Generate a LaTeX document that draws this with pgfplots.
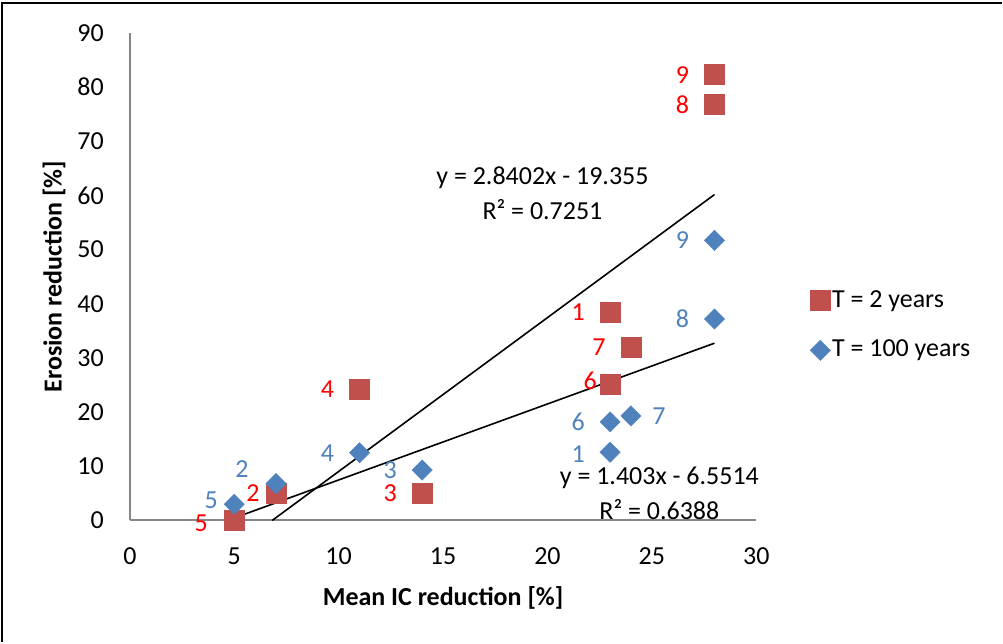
\documentclass[border=0pt]{standalone}
\usepackage{fontspec}
\setmainfont{Carlito}
\usepackage{pgfplots}
\pgfplotsset{compat=1.18}
\definecolor{sqred}{RGB}{192,80,77}
\definecolor{dmblue}{RGB}{79,129,189}
\definecolor{lblred}{RGB}{255,0,0}
\definecolor{lblblue}{RGB}{79,129,189}
\definecolor{axgray}{RGB}{134,134,134}

\begin{document}
\fontsize{26}{31}\selectfont
\begin{tikzpicture}[
    lr/.style={text=lblred, inner sep=0pt, anchor=center, font=\fontsize{26}{31}\selectfont},
    lb/.style={text=lblblue, inner sep=0pt, anchor=center, font=\fontsize{26}{31}\selectfont},
    eq/.style={inner sep=0pt, anchor=center, font=\fontsize{26}{31}\selectfont},
]
\begin{axis}[
    name=ax,
    scale only axis,
    width=627pt, height=488pt,
    xmin=0, xmax=30, ymin=0, ymax=90,
    xtick={0,5,...,30}, ytick={0,10,...,90},
    axis x line*=bottom, axis y line*=left,
    axis line style={axgray, line width=2pt, -},
    tick style={draw=none},
    major tick length=0pt,
    clip=false,
    tick label style={font=\fontsize{26}{31}\selectfont},
    /pgf/number format/assume math mode=true,
    xticklabel style={inner sep=0pt, anchor=north, yshift=-27pt},
    yticklabel style={inner sep=0pt, anchor=east, xshift=-26pt},
    xlabel={\textbf{Mean IC reduction [\%]}},
    ylabel={\textbf{Erosion reduction [\%]}},
    label style={font=\fontsize{26}{31}\selectfont},
    xlabel style={at={(axis description cs:0.5,-0.158)}, anchor=center, inner sep=0pt},
    ylabel style={at={(axis description cs:-0.121,0.5)}, anchor=center, inner sep=0pt},
    legend style={draw=none, fill=none, at={(rel axis cs:1.081,0.40)}, anchor=west,
        font=\fontsize{26}{31}\selectfont, row sep=26pt,
        nodes={inner sep=1.5pt}},
    legend cell align=left,
    legend image code/.code={\draw[#1] plot coordinates {(0pt,0pt)};},
]
% T = 2 years
\addplot[only marks, mark=square*, mark size=10pt,
    mark options={fill=sqred, draw=sqred}] coordinates {
    (23,38.5) (7,5.1) (14,5.1) (11,24.2) (5,0)
    (23,25.2) (24,32.0) (28,76.8) (28,82.3)
};
\addlegendentry{T = 2 years}
% T = 100 years
\addplot[only marks, mark=square*, mark size=7.2pt,
    mark options={rotate=45, fill=dmblue, draw=dmblue}] coordinates {
    (23,12.6) (7,6.8) (14,9.3) (11,12.5) (5,3.0)
    (23,18.2) (24,19.3) (28,37.2) (28,51.7)
};
\addlegendentry{T = 100 years}
% linear trendlines
\addplot[black, line width=1.6pt, forget plot] coordinates {(6.815,0) (28,60.17)};
\addplot[black, line width=1.6pt, forget plot] coordinates {(5,0.464) (28,32.73)};

% trendline equations
\node[eq] at (axis cs:19.76,63.3) {y = 2.8402x - 19.355};
\node[eq] at (axis cs:19.76,57.4) {R² = 0.7251};
\node[eq] at (axis cs:25.36,7.9) {y = 1.403x - 6.5514};
\node[eq] at (axis cs:25.36,2.0) {R² = 0.6388};

% point labels, T = 2 years
\node[lr, xshift=-32pt] at (axis cs:23,38.5) {1};
\node[lr, xshift=-23pt] at (axis cs:7,5.1) {2};
\node[lr, xshift=-32pt] at (axis cs:14,5.1) {3};
\node[lr, xshift=-32pt] at (axis cs:11,24.2) {4};
\node[lr, xshift=-33pt, yshift=-3pt] at (axis cs:5,0) {5};
\node[lr, xshift=-20pt, yshift=3pt] at (axis cs:23,25.2) {6};
\node[lr, xshift=-32pt] at (axis cs:24,32.0) {7};
\node[lr, xshift=-32pt] at (axis cs:28,76.8) {8};
\node[lr, xshift=-32pt] at (axis cs:28,82.3) {9};
% point labels, T = 100 years
\node[lb, xshift=-32pt, yshift=-2pt] at (axis cs:23,12.6) {1};
\node[lb, xshift=-34pt, yshift=15pt] at (axis cs:7,6.8) {2};
\node[lb, xshift=-32pt] at (axis cs:14,9.3) {3};
\node[lb, xshift=-32pt] at (axis cs:11,12.5) {4};
\node[lb, xshift=-23pt, yshift=4pt] at (axis cs:5,3.0) {5};
\node[lb, xshift=-32pt] at (axis cs:23,18.2) {6};
\node[lb, xshift=28pt] at (axis cs:24,19.3) {7};
\node[lb, xshift=-32pt] at (axis cs:28,37.2) {8};
\node[lb, xshift=-32pt] at (axis cs:28,51.7) {9};
\end{axis}
% chart frame (left and top edges visible)
\draw[line width=2pt] ([xshift=-127.5pt, yshift=-122pt]ax.south west)
    -- ([xshift=-127.5pt, yshift=29.5pt]ax.north west)
    -- ([xshift=246pt, yshift=29.5pt]ax.north east);
\path[use as bounding box] ([xshift=-130pt, yshift=-122pt]ax.south west)
    rectangle ([xshift=246pt, yshift=33pt]ax.north east);
\end{tikzpicture}
\end{document}
